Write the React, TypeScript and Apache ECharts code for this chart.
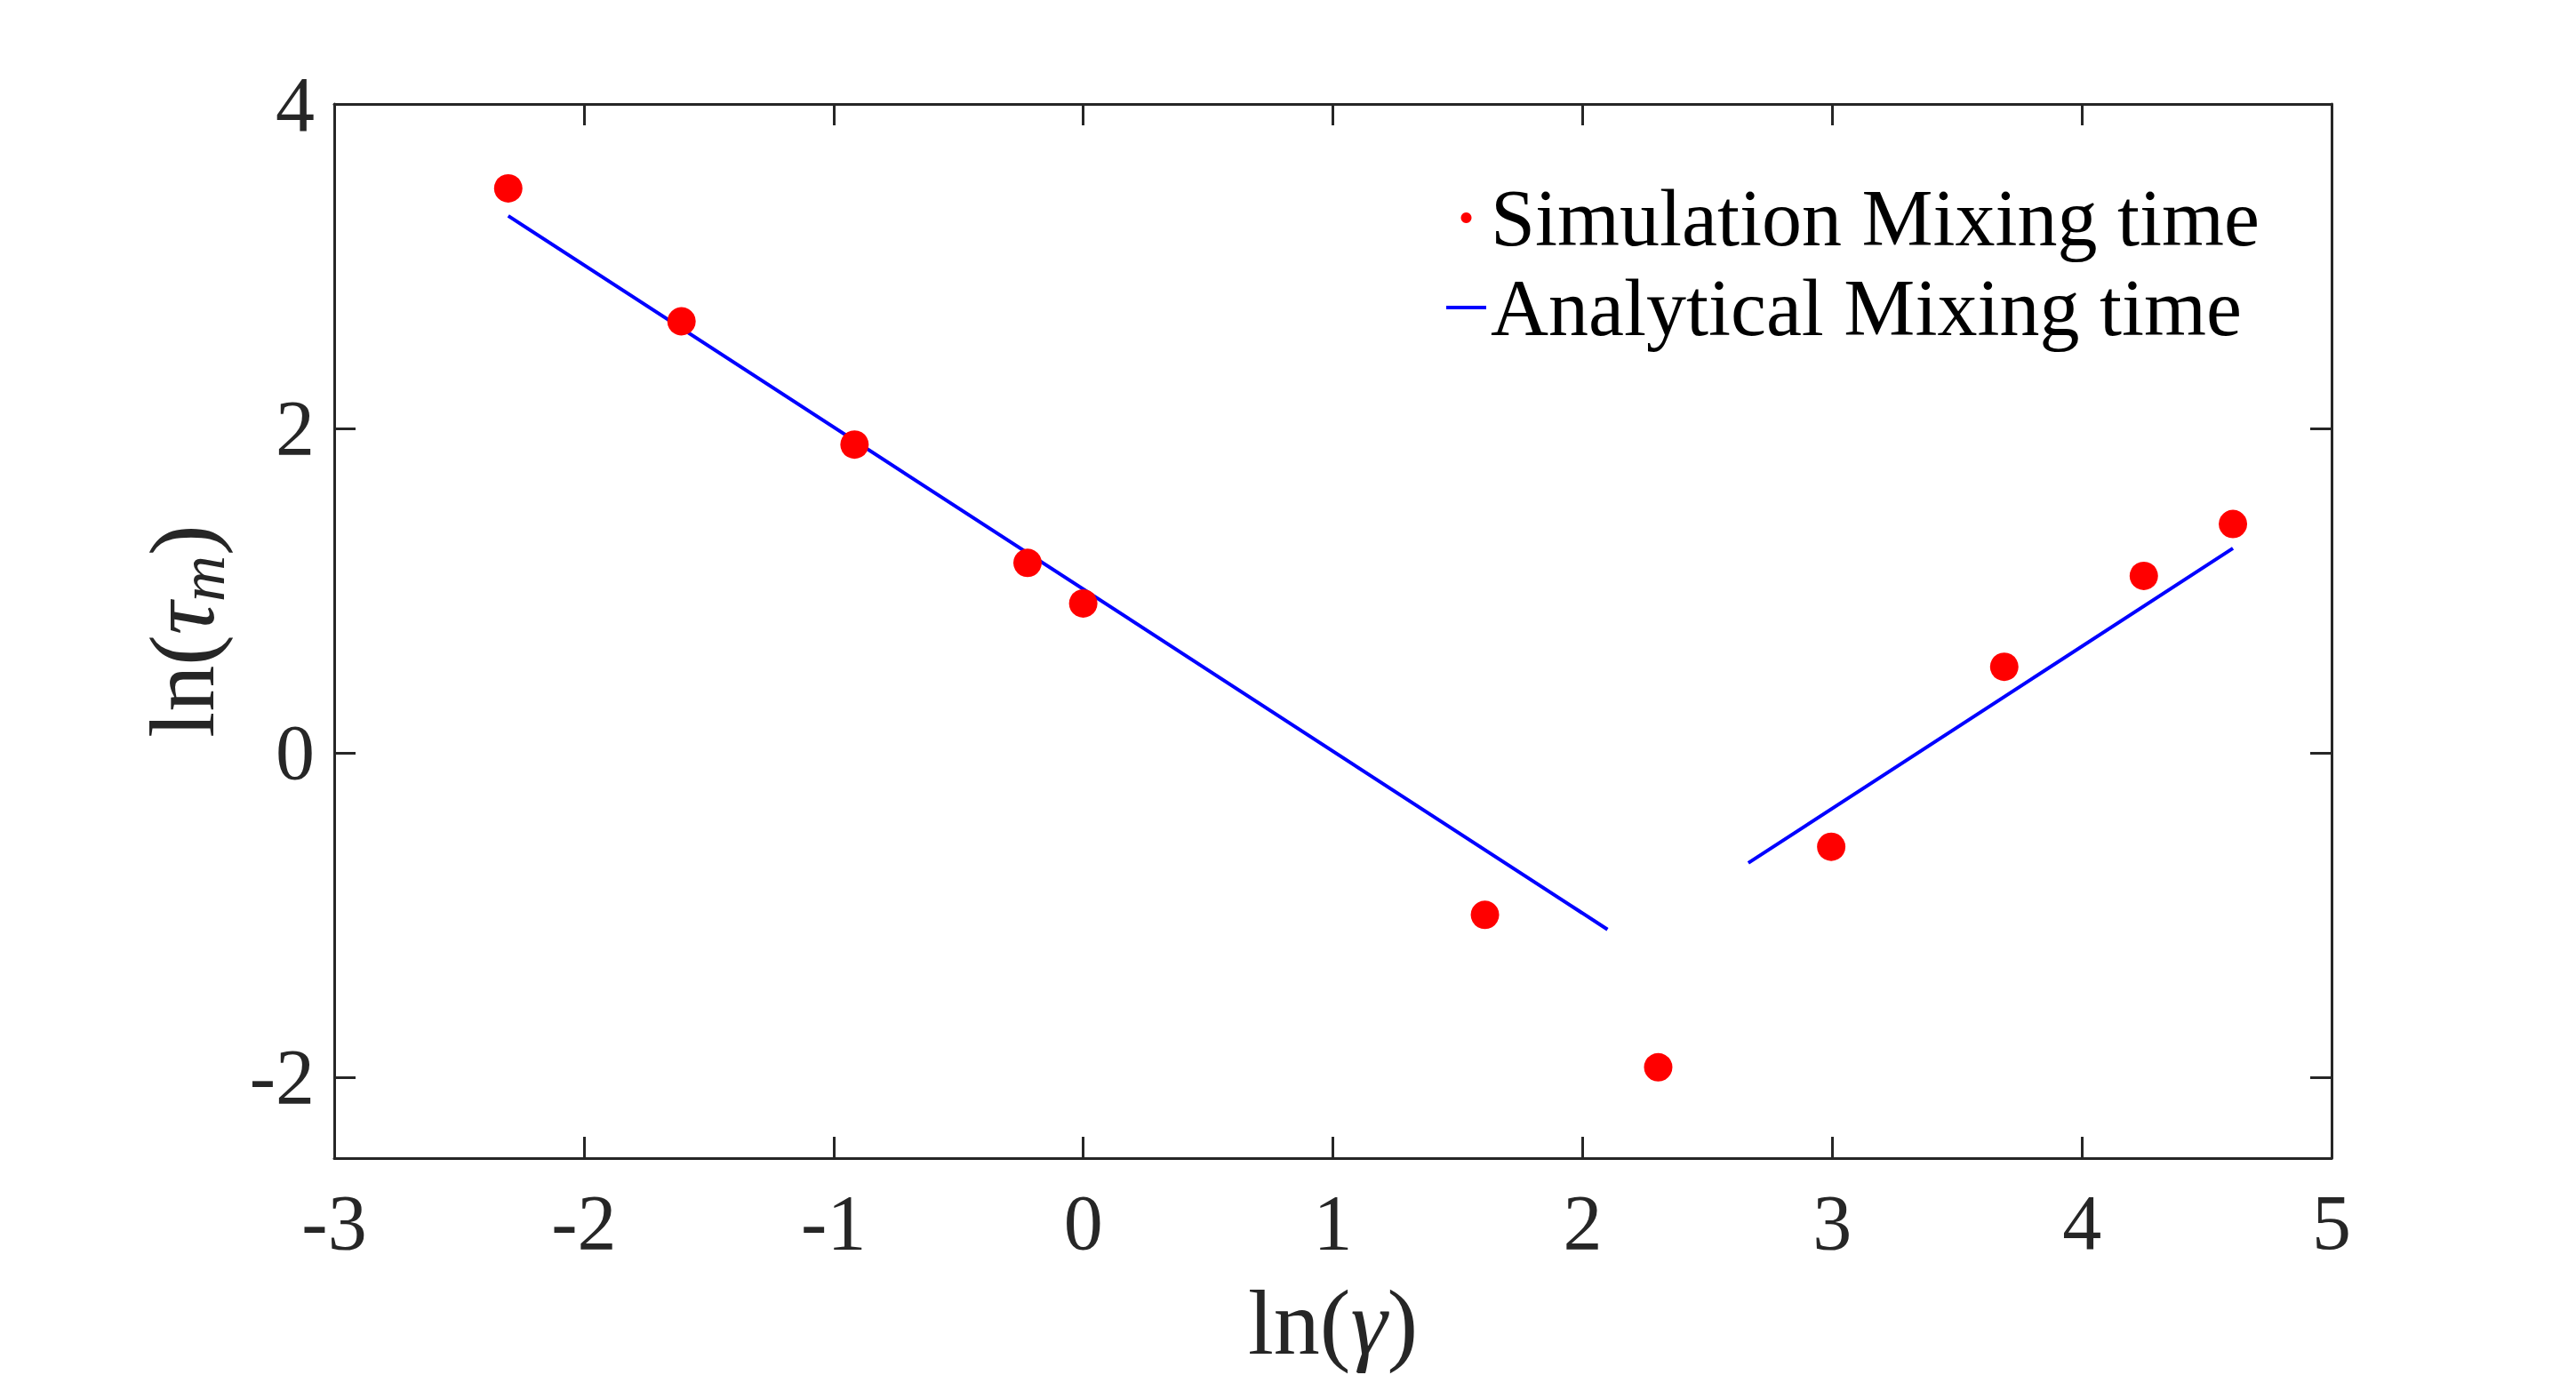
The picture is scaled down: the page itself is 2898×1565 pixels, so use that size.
import React, { useEffect, useRef } from "react";
import * as echarts from "echarts";

const simX = [-2.303, -1.609, -0.916, -0.223, 0, 1.609, 2.303, 2.996, 3.689, 4.248, 4.605];
const simY = [3.48, 2.66, 1.9, 1.17, 0.92, -1.0, -1.94, -0.58, 0.53, 1.09, 1.41];

const anaSeg1X = [-2.303, 2.1];
const anaSeg1Y = [3.31, -1.09];
const anaSeg2X = [2.664, 4.605];
const anaSeg2Y = [-0.68, 1.26];

const xTicks = [-3, -2, -1, 0, 1, 2, 3, 4, 5];
const yTicks = [-2, 0, 2, 4];

const FONT = "'Liberation Serif', 'DejaVu Serif', serif";
const AX = "#262626";

export default function App() {
  const ref = useRef<HTMLDivElement>(null);
  useEffect(() => {
    if (!ref.current) return;
    const chart = echarts.init(ref.current, null, { renderer: "svg" });
    const simData = simX.map((x, i) => [x, simY[i]]);
    const anaData: any[] = [
      ...anaSeg1X.map((x, i) => [x, anaSeg1Y[i]]),
      "-",
      ...anaSeg2X.map((x, i) => [x, anaSeg2Y[i]]),
    ];
    const tickCommon = { show: true, inside: true, length: 24, lineStyle: { color: AX, width: 3 } };
    chart.setOption({
      animation: false,
      backgroundColor: "#ffffff",
      grid: { left: 376, top: 117, right: 275, bottom: 262, containLabel: false },
      legend: {
        orient: "vertical",
        left: 1622,
        top: 195,
        itemWidth: 45,
        itemHeight: 12,
        itemGap: 11,
        textStyle: { fontFamily: FONT, fontSize: 90, color: "#000", lineHeight: 90 },
        data: [
          { name: "Simulation Mixing time", icon: "circle" },
          { name: "Analytical Mixing time", icon: "path://M0,0 L45,0 L45,4 L0,4 Z" },
        ],
      },
      xAxis: [
        {
          type: "value",
          min: -3,
          max: 5,
          interval: 1,
          position: "bottom",
          name: "{a|ln(}{b|γ}{a|)}",
          nameLocation: "middle",
          nameGap: 132,
          nameTextStyle: {
            fontFamily: FONT,
            fontSize: 104,
            color: AX,
            rich: {
              a: { fontFamily: FONT, fontSize: 104, color: AX },
              b: { fontFamily: FONT, fontSize: 104, fontStyle: "italic", color: AX },
            },
          },
          axisLine: { show: true, onZero: false, lineStyle: { color: AX, width: 3 } },
          axisTick: tickCommon,
          splitLine: { show: false },
          axisLabel: {
            margin: 28,
            fontFamily: FONT,
            fontSize: 88,
            color: AX,
            formatter: (v: number) => (xTicks.includes(v) ? String(v) : ""),
          },
        },
        {
          type: "value",
          min: -3,
          max: 5,
          interval: 1,
          position: "top",
          axisLine: { show: true, onZero: false, lineStyle: { color: AX, width: 3 } },
          axisTick: tickCommon,
          axisLabel: { show: false },
          splitLine: { show: false },
        },
      ],
      yAxis: [
        {
          type: "value",
          min: -2.5,
          max: 4,
          position: "left",
          name: "{a|ln(}{b|τ}{c|m}{a|)}",
          nameLocation: "middle",
          nameGap: 112,
          nameTextStyle: {
            fontFamily: FONT,
            fontSize: 104,
            color: AX,
            rich: {
              a: { fontFamily: FONT, fontSize: 104, color: AX, lineHeight: 120 },
              b: { fontFamily: FONT, fontSize: 104, fontStyle: "italic", color: AX, lineHeight: 120 },
              c: {
                fontFamily: FONT,
                fontSize: 72,
                fontStyle: "italic",
                color: AX,
                lineHeight: 120,
                verticalAlign: "bottom",
              },
            },
          },
          axisLine: { show: true, onZero: false, lineStyle: { color: AX, width: 3 } },
          axisTick: { ...tickCommon, customValues: yTicks },
          splitLine: { show: false },
          axisLabel: {
            margin: 22,
            fontFamily: FONT,
            fontSize: 88,
            color: AX,
            customValues: yTicks,
            formatter: (v: number) => String(v),
          },
        },
        {
          type: "value",
          min: -2.5,
          max: 4,
          position: "right",
          axisLine: { show: true, onZero: false, lineStyle: { color: AX, width: 3 } },
          axisTick: { ...tickCommon, customValues: yTicks },
          axisLabel: { show: false, customValues: yTicks },
          splitLine: { show: false },
        },
      ],
      series: [
        {
          name: "Simulation Mixing time",
          type: "scatter",
          data: simData,
          symbol: "circle",
          symbolSize: 32,
          itemStyle: { color: "#ff0000", opacity: 1 },
          z: 3,
        },
        {
          name: "Analytical Mixing time",
          type: "line",
          data: anaData,
          symbol: "none",
          connectNulls: false,
          lineStyle: { color: "#0000ff", width: 4 },
          itemStyle: { color: "#0000ff" },
          z: 2,
        },
      ],
    });
    return () => chart.dispose();
  }, []);
  return (
    <div
      ref={ref}
      style={{ position: "fixed", left: 0, top: 0, width: 2898, height: 1565, background: "#fff" }}
    />
  );
}
